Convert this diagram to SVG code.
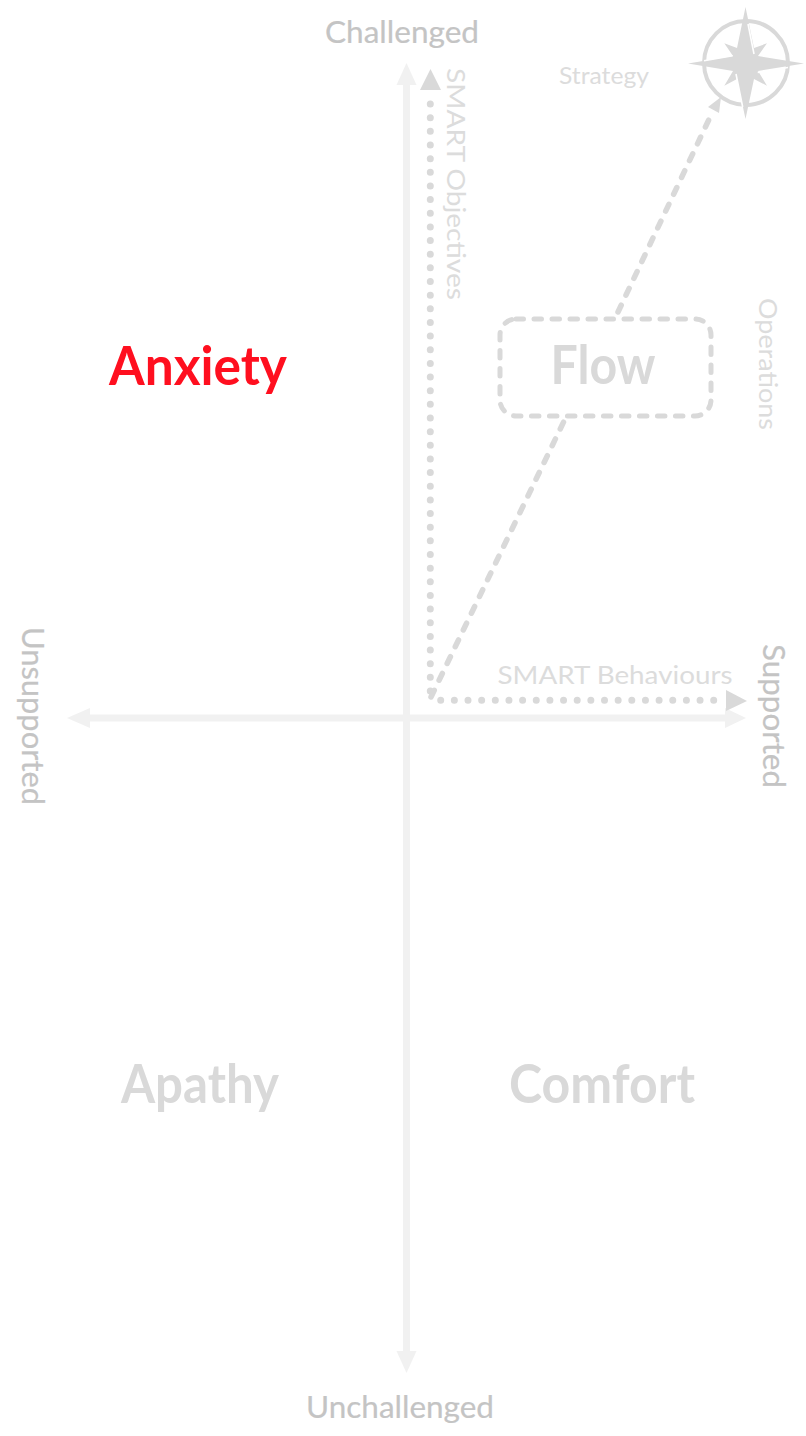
<svg xmlns="http://www.w3.org/2000/svg" width="806" height="1436" viewBox="0 0 806 1436">
<style>
text{font-family:"Lato","Noto Sans",sans-serif;text-anchor:middle}
.ax{fill:#c4c4c4;font-size:31px;stroke:#c4c4c4;stroke-width:.2}
.sm{fill:#dcdcdc;font-size:25px}
.big{fill:#d9d9d9;font-size:54px;font-weight:700}
.axis{stroke:#f1f1f1;stroke-width:7;fill:none}
.ah{fill:#f1f1f1}
.dot{stroke:#d9d9d9;stroke-width:7;stroke-linecap:round;stroke-dasharray:0 13.65;fill:none}
.dash{stroke:#d9d9d9;stroke-width:5.5;stroke-linecap:round;stroke-dasharray:7.5 11.1;fill:none}
.tip{fill:#d9d9d9}
.cut{stroke:#fff;stroke-width:1.6;fill:none}
</style>
<rect width="806" height="1436" fill="#fff"/>
<g id="connectors">
<path class="axis" d="M406.500 80V1356"/>
<path class="ah" d="M406.500 63L416.500 85H396.500Z"/>
<path class="ah" d="M406.500 1373L396.500 1351H416.500Z"/>
<path class="axis" d="M84 718H730"/>
<path class="ah" d="M67 718L90 708V728Z"/>
<path class="ah" d="M746 718L725 708V728Z"/>
<path class="dot" d="M430.300 691V94"/>
<path class="tip" d="M430.500 69L441 90H420Z"/>
<path class="dot" d="M440.700 700.300H722"/>
<path class="tip" d="M747 701L726 690V711Z"/>
<path class="dash" d="M431 697L566 417"/>
<path class="dash" d="M618 312L712 113"/>
<path class="tip" d="M721 97L719 113L708 107Z"/>
</g>
<g id="compass">
<circle cx="746" cy="63" r="42" fill="none" stroke="#d9d9d9" stroke-width="4"/>
<path class="tip" d="M745.500 7L754 48L767 43.300L758 56L804 63.500L758 71L767 85.700L754 79L745.500 119L737 79L724.300 85.700L733 71L688 63.500L733 56L724.300 43.300L737 48Z"/>
<path class="cut" d="M748 24L754 54M788 67.500L757.700 72.500M736 74L742.700 107M704 60.700L732.700 55.700"/>
</g>
<g id="flow">
<rect x="500" y="319" width="211" height="97" rx="16" fill="none" stroke="#d9d9d9" stroke-width="5" stroke-linecap="round" stroke-dasharray="7.500 10.500"/>
<text class="big" x="603" y="384" textLength="105" lengthAdjust="spacingAndGlyphs">Flow</text>
</g>
<g id="anxiety"><text x="198" y="385" textLength="178" lengthAdjust="spacingAndGlyphs" style="fill:#ff0f1f;font-size:54px;font-weight:700">Anxiety</text></g>
<g id="apathy"><text class="big" x="200" y="1103" textLength="158" lengthAdjust="spacingAndGlyphs">Apathy</text></g>
<g id="comfort"><text class="big" x="602" y="1103" textLength="186" lengthAdjust="spacingAndGlyphs">Comfort</text></g>
<g id="labels">
<text class="ax" x="402" y="43" textLength="154" lengthAdjust="spacingAndGlyphs">Challenged</text>
<text class="ax" x="400" y="1418" textLength="188" lengthAdjust="spacingAndGlyphs">Unchallenged</text>
<text class="ax" transform="translate(22 716) rotate(90)" textLength="178" lengthAdjust="spacingAndGlyphs">Unsupported</text>
<text class="ax" transform="translate(763 716) rotate(90)" textLength="144" lengthAdjust="spacingAndGlyphs">Supported</text>
<text class="sm" x="604" y="84" textLength="90" lengthAdjust="spacingAndGlyphs" style="font-size:23px">Strategy</text>
<text class="sm" x="615" y="684" textLength="235" lengthAdjust="spacingAndGlyphs">SMART Behaviours</text>
<text class="sm" transform="translate(447 184) rotate(90)" textLength="232" lengthAdjust="spacingAndGlyphs">SMART Objectives</text>
<text class="sm" transform="translate(759 364) rotate(90)" textLength="132" lengthAdjust="spacingAndGlyphs">Operations</text>
</g>
</svg>
